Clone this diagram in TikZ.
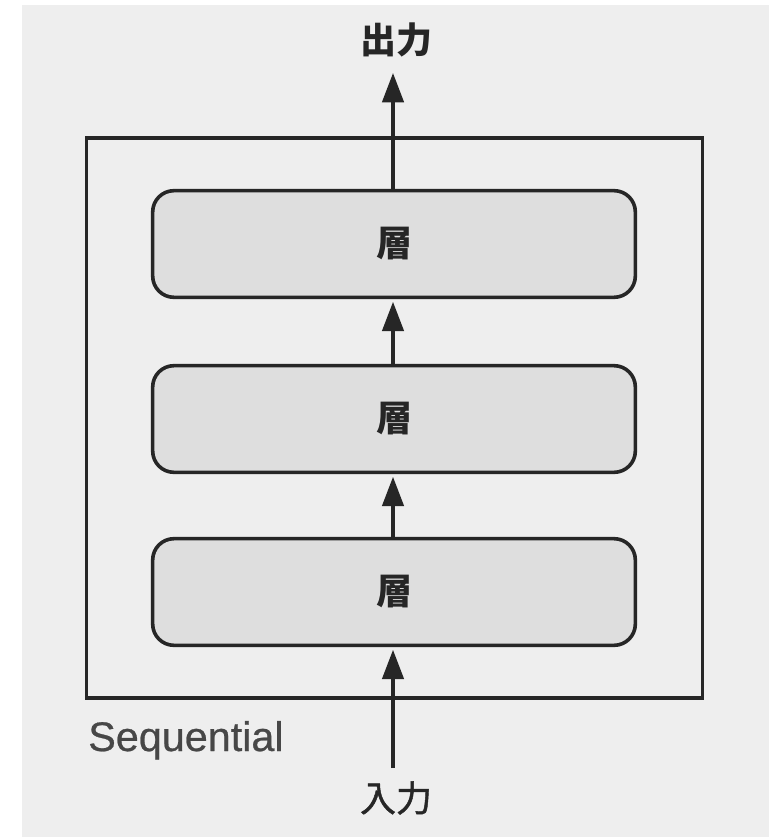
\documentclass[tikz,border=0pt]{standalone}
\usepackage{fontspec}
\setmainfont{Liberation Sans}
\newfontfamily\cjk{Noto Sans CJK JP}
\newfontfamily\cjkmed[FakeBold=1.2]{Noto Sans CJK JP}
\newfontfamily\seqfont[FakeBold=0.6]{Liberation Sans}
\usetikzlibrary{arrows.meta}
\definecolor{paper}{HTML}{EEEEEE}
\definecolor{layerfill}{HTML}{DEDEDE}
\definecolor{ink}{HTML}{262626}
\tikzset{
  layerbox/.style={draw=ink, line width=2.7pt, fill=layerfill, rounded corners=16pt,
    minimum width=362pt, minimum height=80pt, inner sep=0pt,
    font=\cjk\bfseries\fontsize{27}{27}\selectfont, text=ink},
  flow/.style={draw=ink, line width=2.6pt, -{Triangle[length=22pt,width=16pt]}, shorten >=2pt},
  cjklabel/.style={font=\cjkmed\fontsize{27}{27}\selectfont, text=ink, inner sep=0pt},
}
\begin{document}
\begin{tikzpicture}[x=0.75pt,y=-0.75pt]
  \useasboundingbox (0,0) rectangle (769,837);
  % paper background
  \fill[paper] (22,5) rectangle (769,837);
  % Sequential container
  \node[draw=ink, line width=2.7pt, minimum width=462pt, minimum height=420pt, inner sep=0pt]
    (seq) at (394.5,418) {};
  \node[anchor=base west, inner sep=0pt, text=ink!85, font=\seqfont\fontsize{31}{31}\selectfont]
    (seqlabel) at (88,751) {Sequential};
  % three stacked layers
  \node[layerbox] (l3) at (394,244) {層};
  \node[layerbox] (l2) at (394,419) {層};
  \node[layerbox] (l1) at (394,592) {層};
  % input / output
  \node[cjklabel, font=\cjk\bfseries\fontsize{27}{27}\selectfont] (out) at (396,40) {出力};
  \node[cjklabel] (in) at (396,798) {入力};
  \coordinate (outtip) at (393,73);
  \coordinate (inbase) at (393,768);
  \draw[flow] (inbase) -- (l1.south -| inbase);
  \draw[flow] (l1.north -| inbase) -- (l2.south -| inbase);
  \draw[flow] (l2.north -| inbase) -- (l3.south -| inbase);
  \draw[flow, shorten >=0pt] (l3.north -| inbase) -- (outtip);
\end{tikzpicture}
\end{document}
